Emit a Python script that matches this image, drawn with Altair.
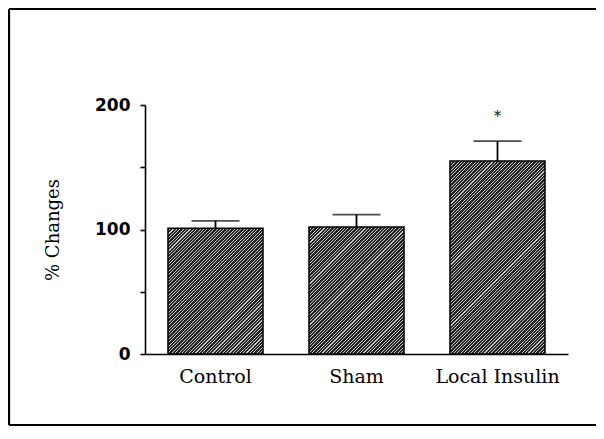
import altair as alt
import pandas as pd

# ---- data ----
groups = ["Control", "Sham", "Local Insulin"]
means = [101, 102, 155]
errors = [6, 10, 16]
sig = ["", "", "*"]
y_tick_values = [0, 50, 100, 150, 200]

df = pd.DataFrame({"group": groups, "mean": means, "err": errors, "sig": sig})

# ---- layout (pixels) ----
W, H = 423, 249
PAD = {"left": 137, "top": 97, "right": 28, "bottom": 72}
P_INNER, P_OUTER = 0.326, 0.163
YMAX = 200
bandwidth = W / (len(groups) - P_INNER + 2 * P_OUTER) * (1 - P_INNER)


def hatch(value):
    """Diagonal '///' hatch as a striped linear gradient for a bar of given value."""
    w = bandwidth
    h = value * H / YMAX
    k = (w + h) / (w * w + h * h)
    n = int(round((w + h) / 3.4))
    f = 0.68
    dark, light = "#222222", "#c8c8c8"
    stops = []
    for i in range(n):
        stops.append(alt.GradientStop(offset=i / n, color=dark))
        stops.append(alt.GradientStop(offset=(i + f) / n, color=dark))
        stops.append(alt.GradientStop(offset=(i + f) / n, color=light))
        stops.append(alt.GradientStop(offset=(i + 1) / n, color=light))
    return alt.LinearGradient(gradient="linear", stops=stops,
                              x1=0, y1=0, x2=k * w, y2=k * h)


x_enc = alt.X(
    "group:N",
    sort=groups,
    scale=alt.Scale(domain=groups, paddingInner=P_INNER, paddingOuter=P_OUTER),
    axis=alt.Axis(
        title=None, labelAngle=0, ticks=False, domain=True,
        domainColor="black", domainWidth=1.6,
        labelFont="DejaVu Serif", labelFontSize=19, labelColor="black",
        labelPadding=13, labelBaseline="top",
    ),
)
y_axis = alt.Axis(
    values=y_tick_values,
    labelExpr="datum.value % 100 == 0 ? datum.label : ''",
    grid=False, domainColor="black", domainWidth=1.6,
    tickColor="black", tickWidth=1.6, tickSize=5,
    labelFont="DejaVu Sans", labelFontWeight="bold", labelFontSize=17,
    labelColor="black", labelPadding=10,
    title="% Changes", titleFont="DejaVu Serif", titleFontWeight="normal",
    titleFontSize=18, titleColor="black", titlePadding=32,
)
y_scale = alt.Scale(domain=[0, YMAX], nice=False, zero=True)
y_enc = alt.Y("mean:Q", scale=y_scale, axis=y_axis)

layers = []
for g, m in zip(groups, means):
    layers.append(
        alt.Chart(df)
        .transform_filter(alt.datum.group == g)
        .mark_bar(fill=hatch(m), stroke="black", strokeWidth=1.5)
        .encode(x=x_enc, y=y_enc)
    )

base = alt.Chart(df).transform_calculate(upper="datum.mean + datum.err")

err_rule = base.mark_rule(color="black", strokeWidth=1.8).encode(
    x=x_enc, y=y_enc, y2="upper:Q"
)
err_cap = base.mark_tick(color="black", thickness=1.8, size=48).encode(
    x=x_enc, y=alt.Y("upper:Q", scale=y_scale, axis=y_axis)
)
star = base.mark_text(
    font="DejaVu Serif", fontSize=14, color="black", dy=-20, baseline="alphabetic"
).encode(x=x_enc, y=alt.Y("upper:Q", scale=y_scale, axis=y_axis), text="sig:N")

# decorative frame (top, left and bottom edges of the scanned figure box)
one = pd.DataFrame({"f": [0]})
frame_style = dict(color="black", strokeWidth=2.2)
frame_top = alt.Chart(one).mark_rule(**frame_style).encode(
    x=alt.value(-136), x2=alt.value(460), y=alt.value(-96)
)
frame_left = alt.Chart(one).mark_rule(**frame_style).encode(
    x=alt.value(-136), y=alt.value(-96), y2=alt.value(320)
)
frame_bottom = alt.Chart(one).mark_rule(**frame_style).encode(
    x=alt.value(-136), x2=alt.value(460), y=alt.value(320)
)

chart = (
    alt.layer(*layers, err_rule, err_cap, star, frame_top, frame_left, frame_bottom)
    .properties(
        width=W, height=H, padding=PAD,
        autosize=alt.AutoSizeParams(type="none"),
        background="white",
    )
    .configure_view(strokeWidth=0)
)

chart.save("out.html", embed_options={"renderer": "svg", "actions": False})
